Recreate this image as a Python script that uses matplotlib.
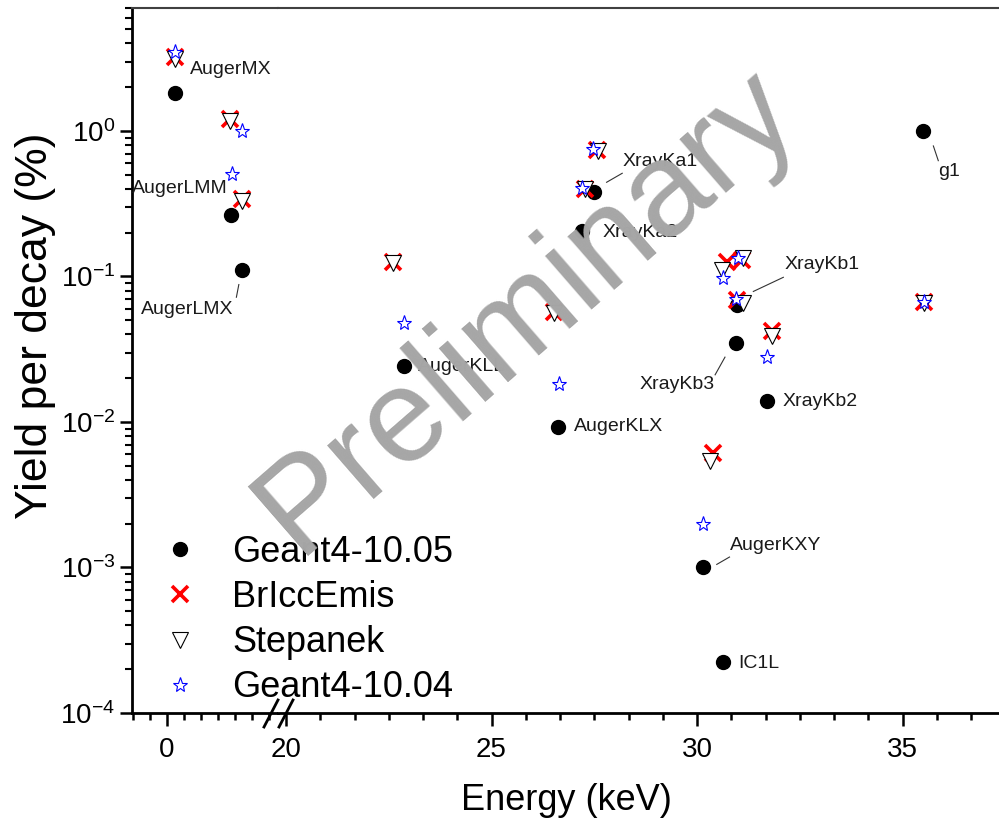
import matplotlib
matplotlib.use('Agg')
import matplotlib.pyplot as plt
from matplotlib.ticker import MultipleLocator, LogLocator, NullFormatter
from matplotlib.lines import Line2D

plt.rcParams['font.family'] = ['Liberation Sans', 'DejaVu Sans']
plt.rcParams['mathtext.fontset'] = 'custom'
plt.rcParams['mathtext.rm'] = 'Liberation Sans'
plt.rcParams['mathtext.it'] = 'Liberation Sans:italic'

# ---------------------------------------------------------------- data
# energies in keV, yields in % per decay
g4_1005_e = [0.39, 3.14, 3.68, 22.87, 26.62, 27.20, 27.49, 30.97, 30.95, 31.70, 30.14, 30.64, 35.51]
g4_1005_y = [1.82, 0.265, 0.111, 0.0243, 0.00924, 0.205, 0.381, 0.0637, 0.0347, 0.0140, 0.00101, 0.000225, 1.0]

bricc_e = [0.39, 3.09, 3.70, 22.60, 26.51, 27.27, 27.56, 30.39, 30.72, 30.97, 31.09, 31.82, 35.52]
bricc_y = [3.2, 1.21, 0.34, 0.126, 0.057, 0.40, 0.74, 0.0061, 0.126, 0.069, 0.13, 0.042, 0.067]

stepanek_e = [0.39, 3.09, 3.70, 22.60, 26.51, 27.27, 27.58, 30.32, 30.60, 31.13, 31.13, 31.82, 35.52]
stepanek_y = [3.1, 1.18, 0.33, 0.124, 0.056, 0.40, 0.73, 0.0054, 0.111, 0.066, 0.133, 0.039, 0.066]

g4_1004_e = [0.39, 3.20, 3.70, 22.88, 26.64, 27.20, 27.48, 30.15, 30.64, 30.95, 31.00, 31.70, 35.52]
g4_1004_y = [3.5, 0.51, 1.0, 0.048, 0.0182, 0.405, 0.75, 0.00198, 0.097, 0.0695, 0.133, 0.028, 0.067]

# line labels: (text, x, y, ha, leader line or None)
labels_left = [
    ("AugerMX", 1.13, 2.63, 'left', None),
    ("AugerLMM", 2.99, 0.40, 'right', None),
    ("AugerLMX", 3.24, 0.059, 'right', [(3.40, 3.52), (0.072, 0.088)]),
]
labels_right = [
    ("XrayKa1", 28.18, 0.612, 'left', [(28.18, 27.80), (0.512, 0.444)]),
    ("XrayKa2", 27.69, 0.199, 'left', None),
    ("XrayKb1", 32.14, 0.120, 'left', [(32.10, 31.37), (0.0987, 0.0789)]),
    ("XrayKb3", 28.61, 0.0180, 'left', [(30.68, 30.44), (0.0279, 0.0211)]),
    ("XrayKb2", 32.07, 0.0139, 'left', None),
    ("AugerKLX", 27.01, 0.00924, 'left', None),
    ("AugerKLL", 23.21, 0.0239, 'left', None),
    ("AugerKXY", 30.80, 0.00142, 'left', [(30.79, 30.48), (0.00118, 0.00105)]),
    ("IC1L", 31.0, 0.000220, 'left', None),
    ("g1", 35.86, 0.523, 'left', [(35.75, 35.87), (0.789, 0.625)]),
]

# ---------------------------------------------------------------- figure
W, H = 999, 823
fig = plt.figure(figsize=(W / 100, H / 100), dpi=100)

def px(x0, x1, y0, y1):
    return [x0 / W, 1 - y1 / H, (x1 - x0) / W, (y1 - y0) / H]

ax_l = fig.add_axes(px(132, 278, 8, 713))
ax_r = fig.add_axes(px(278, 1002, 8, 713), sharey=ax_l)

series = [
    (g4_1005_e, g4_1005_y, dict(marker='o', ms=10, color='black', label='Geant4-10.05')),
    (bricc_e, bricc_y, dict(marker='x', ms=11, mew=2.6, color='#ff0000', label='BrIccEmis')),
    (stepanek_e, stepanek_y, dict(marker='v', ms=12, mfc='white', mec='black', mew=0.8, label='Stepanek')),
    (g4_1004_e, g4_1004_y, dict(marker='*', ms=11, mfc='white', mec='#0000ff', mew=0.8, label='Geant4-10.04')),
]
handles = []
for e, y, kw in series:
    ax_l.plot(e, y, linestyle='none', **kw)
    h, = ax_r.plot(e, y, linestyle='none', **kw)
    handles.append(h)

ax_l.set_yscale('log')
ax_l.set_ylim(1e-4, 7.0)
ax_l.set_xlim(-1.716, 5.44)
ax_r.set_xlim(19.805, 37.42)

ax_l.yaxis.set_major_locator(LogLocator(base=10, numticks=10))
ax_l.yaxis.set_minor_locator(LogLocator(base=10, subs=range(2, 10), numticks=20))
ax_l.yaxis.set_minor_formatter(NullFormatter())

ax_l.xaxis.set_major_locator(MultipleLocator(20))
ax_l.xaxis.set_minor_locator(MultipleLocator(5 / 6))
ax_r.xaxis.set_major_locator(MultipleLocator(5))
ax_r.xaxis.set_minor_locator(MultipleLocator(5 / 6))

for ax in (ax_l, ax_r):
    ax.spines['right'].set_visible(False)
    ax.spines['top'].set_color('#404040')
    ax.spines['top'].set_linewidth(1.5)
    ax.spines['bottom'].set_linewidth(2.0)
    ax.spines['left'].set_linewidth(2.0)
    ax.tick_params(axis='x', which='major', direction='out', length=9, width=1.8,
                   labelsize=20, pad=8)
    ax.tick_params(axis='x', which='minor', direction='out', length=5, width=1.8)
    ax.tick_params(axis='y', which='major', direction='out', length=9, width=1.8,
                   labelsize=20, pad=3)
    ax.tick_params(axis='y', which='minor', direction='out', length=5, width=1.5)
ax_r.spines['left'].set_visible(False)
ax_r.tick_params(axis='y', which='both', left=False, labelleft=False)

# labels next to the points
for ax, labs in ((ax_l, labels_left), (ax_r, labels_right)):
    for txt, x, y, ha, lead in labs:
        ax.text(x, y, txt, ha=ha, va='center', fontsize=14, color='#1a1a1a')
        if lead is not None:
            ax.plot(lead[0], lead[1], color='#333333', lw=0.8)

# axis break marks
for x0 in (264, 279):
    fig.add_artist(Line2D([x0 / W, (x0 + 14) / W], [1 - 727 / H, 1 - 700 / H],
                          transform=fig.transFigure, color='black', lw=2.0))

fig.text(566 / W, 1 - 801 / H, 'Energy (keV)', ha='center', va='center', fontsize=26)
fig.text(36 / W, 1 - 326 / H, 'Yield per decay (%)', ha='center', va='center',
         rotation=90, fontsize=32)

fig.legend(handles=handles, loc='upper left', bbox_to_anchor=(162 / W, 1 - 535 / H),
           frameon=False, fontsize=26, handlelength=1.0, handletextpad=0.95,
           labelspacing=0.28, borderpad=0, borderaxespad=0)

fig.text(527 / W, 1 - 311 / H, 'Preliminary', ha='center', va='center', rotation=41,
         fontsize=96, color='#a6a6a6', zorder=10)

fig.savefig('out.png', dpi=100)
